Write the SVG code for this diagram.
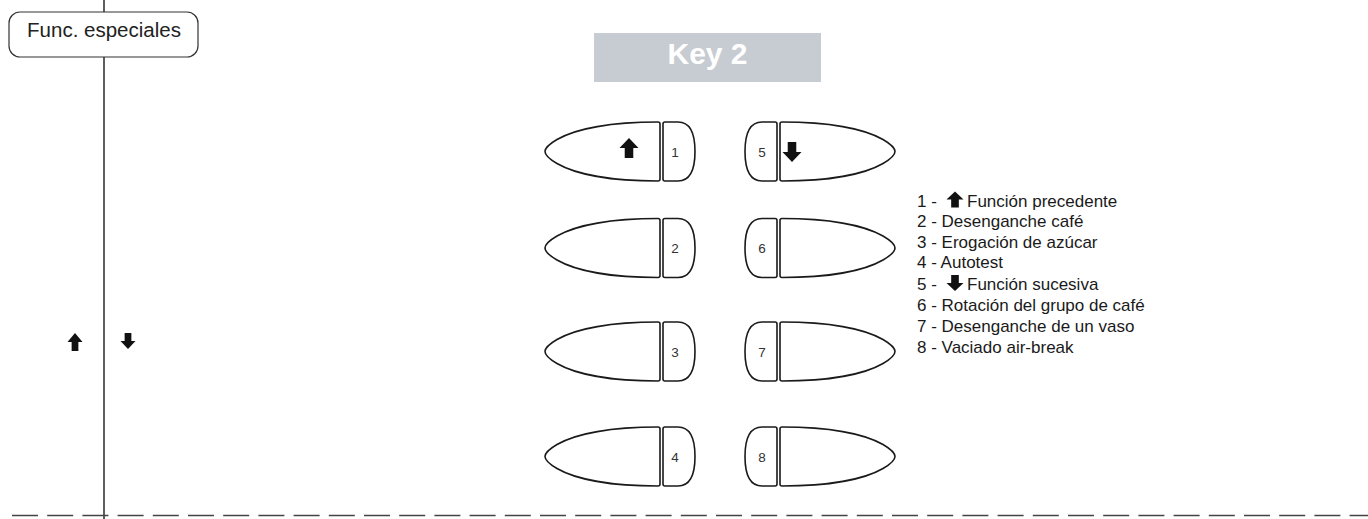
<svg xmlns="http://www.w3.org/2000/svg" width="1368" height="519" viewBox="0 0 1368 519">
<style>
.ln{stroke:#1a1a1a;stroke-width:1.4;fill:none}
.btn{stroke:#1a1a1a;stroke-width:1.6;fill:#fff;stroke-linejoin:round}
.num{font-family:"Liberation Sans",Arial,sans-serif;font-size:13.5px;fill:#333;text-anchor:middle}
.leg{font-family:"Liberation Sans",Arial,sans-serif;font-size:17px;fill:#1a1a1a}
.arr{fill:#111}
</style>
<defs>
<path id="up" d="M0,-10 L10,0 L4.5,0 L4.5,10 L-4.5,10 L-4.5,0 L-10,0 Z"/>
<g id="btnL">
<path class="btn" d="M658,-29.5 C612,-29.5 576,-23 557,-12 Q545,-5 545,0 Q545,5 557,12 C576,23 612,29.5 658,29.5 Q660,29.5 660,27.5 L660,-27.5 Q660,-29.5 658,-29.5 Z"/>
<path class="btn" d="M663,-27.5 Q663,-29.5 665,-29.5 L678,-29.5 Q695,-29.5 695,0 Q695,29.5 678,29.5 L665,29.5 Q663,29.5 663,27.5 Z"/>
</g>
</defs>
<g id="connectors">
<line class="ln" x1="104" y1="0" x2="104" y2="519"/>
<line x1="12" y1="515.5" x2="1368" y2="515.5" stroke="#444" stroke-width="1.5" stroke-dasharray="26 9.2"/>
</g>
<g id="func-especiales">
<rect x="9" y="12" width="189" height="45" rx="11" ry="11" fill="#fff" stroke="#333" stroke-width="1.2"/>
<text x="104" y="37" font-family="Liberation Sans,Arial,sans-serif" font-size="20.5" fill="#222" text-anchor="middle">Func. especiales</text>
</g>
<g id="key2">
<rect x="594" y="33" width="227" height="49" fill="#c7ccd2"/>
<text x="707.5" y="64" font-family="Liberation Sans,Arial,sans-serif" font-size="30" font-weight="bold" fill="#fff" text-anchor="middle">Key 2</text>
</g>
<g id="side-arrows">
<use href="#up" class="arr" transform="translate(75,342) scale(0.75,0.9)"/>
<use href="#up" class="arr" transform="translate(128,341) rotate(180) scale(0.75,0.8)"/>
</g>
<g id="button-1">
<use href="#btnL" transform="translate(0,151.5)"/>
<use href="#up" class="arr" transform="translate(629,148) scale(0.95,1)"/>
<text class="num" x="675" y="157">1</text>
</g>
<g id="button-2">
<use href="#btnL" transform="translate(0,248)"/>
<text class="num" x="675" y="253">2</text>
</g>
<g id="button-3">
<use href="#btnL" transform="translate(0,351.5)"/>
<text class="num" x="675" y="356.5">3</text>
</g>
<g id="button-4">
<use href="#btnL" transform="translate(0,456.5)"/>
<text class="num" x="675" y="461.5">4</text>
</g>
<g id="button-5">
<use href="#btnL" transform="translate(1440,151.5) scale(-1,1)"/>
<use href="#up" class="arr" transform="translate(792,152) rotate(180) scale(0.95,1)"/>
<text class="num" x="762" y="157">5</text>
</g>
<g id="button-6">
<use href="#btnL" transform="translate(1440,248) scale(-1,1)"/>
<text class="num" x="762" y="253">6</text>
</g>
<g id="button-7">
<use href="#btnL" transform="translate(1440,351.5) scale(-1,1)"/>
<text class="num" x="762" y="356.5">7</text>
</g>
<g id="button-8">
<use href="#btnL" transform="translate(1440,456.5) scale(-1,1)"/>
<text class="num" x="762" y="461.5">8</text>
</g>
<g id="legend">
<text class="leg" x="917" y="207">1 - </text>
<use href="#up" class="arr" transform="translate(955,199.5) scale(0.85,0.8)"/>
<text class="leg" x="967" y="207">Función precedente</text>
<text class="leg" x="917" y="227">2 - Desenganche café</text>
<text class="leg" x="917" y="248">3 - Erogación de azúcar</text>
<text class="leg" x="917" y="268">4 - Autotest</text>
<text class="leg" x="917" y="290">5 - </text>
<use href="#up" class="arr" transform="translate(955,283) rotate(180) scale(0.85,0.8)"/>
<text class="leg" x="967" y="290">Función sucesiva</text>
<text class="leg" x="917" y="311">6 - Rotación del grupo de café</text>
<text class="leg" x="917" y="332">7 - Desenganche de un vaso</text>
<text class="leg" x="917" y="353">8 - Vaciado air-break</text>
</g>
</svg>
